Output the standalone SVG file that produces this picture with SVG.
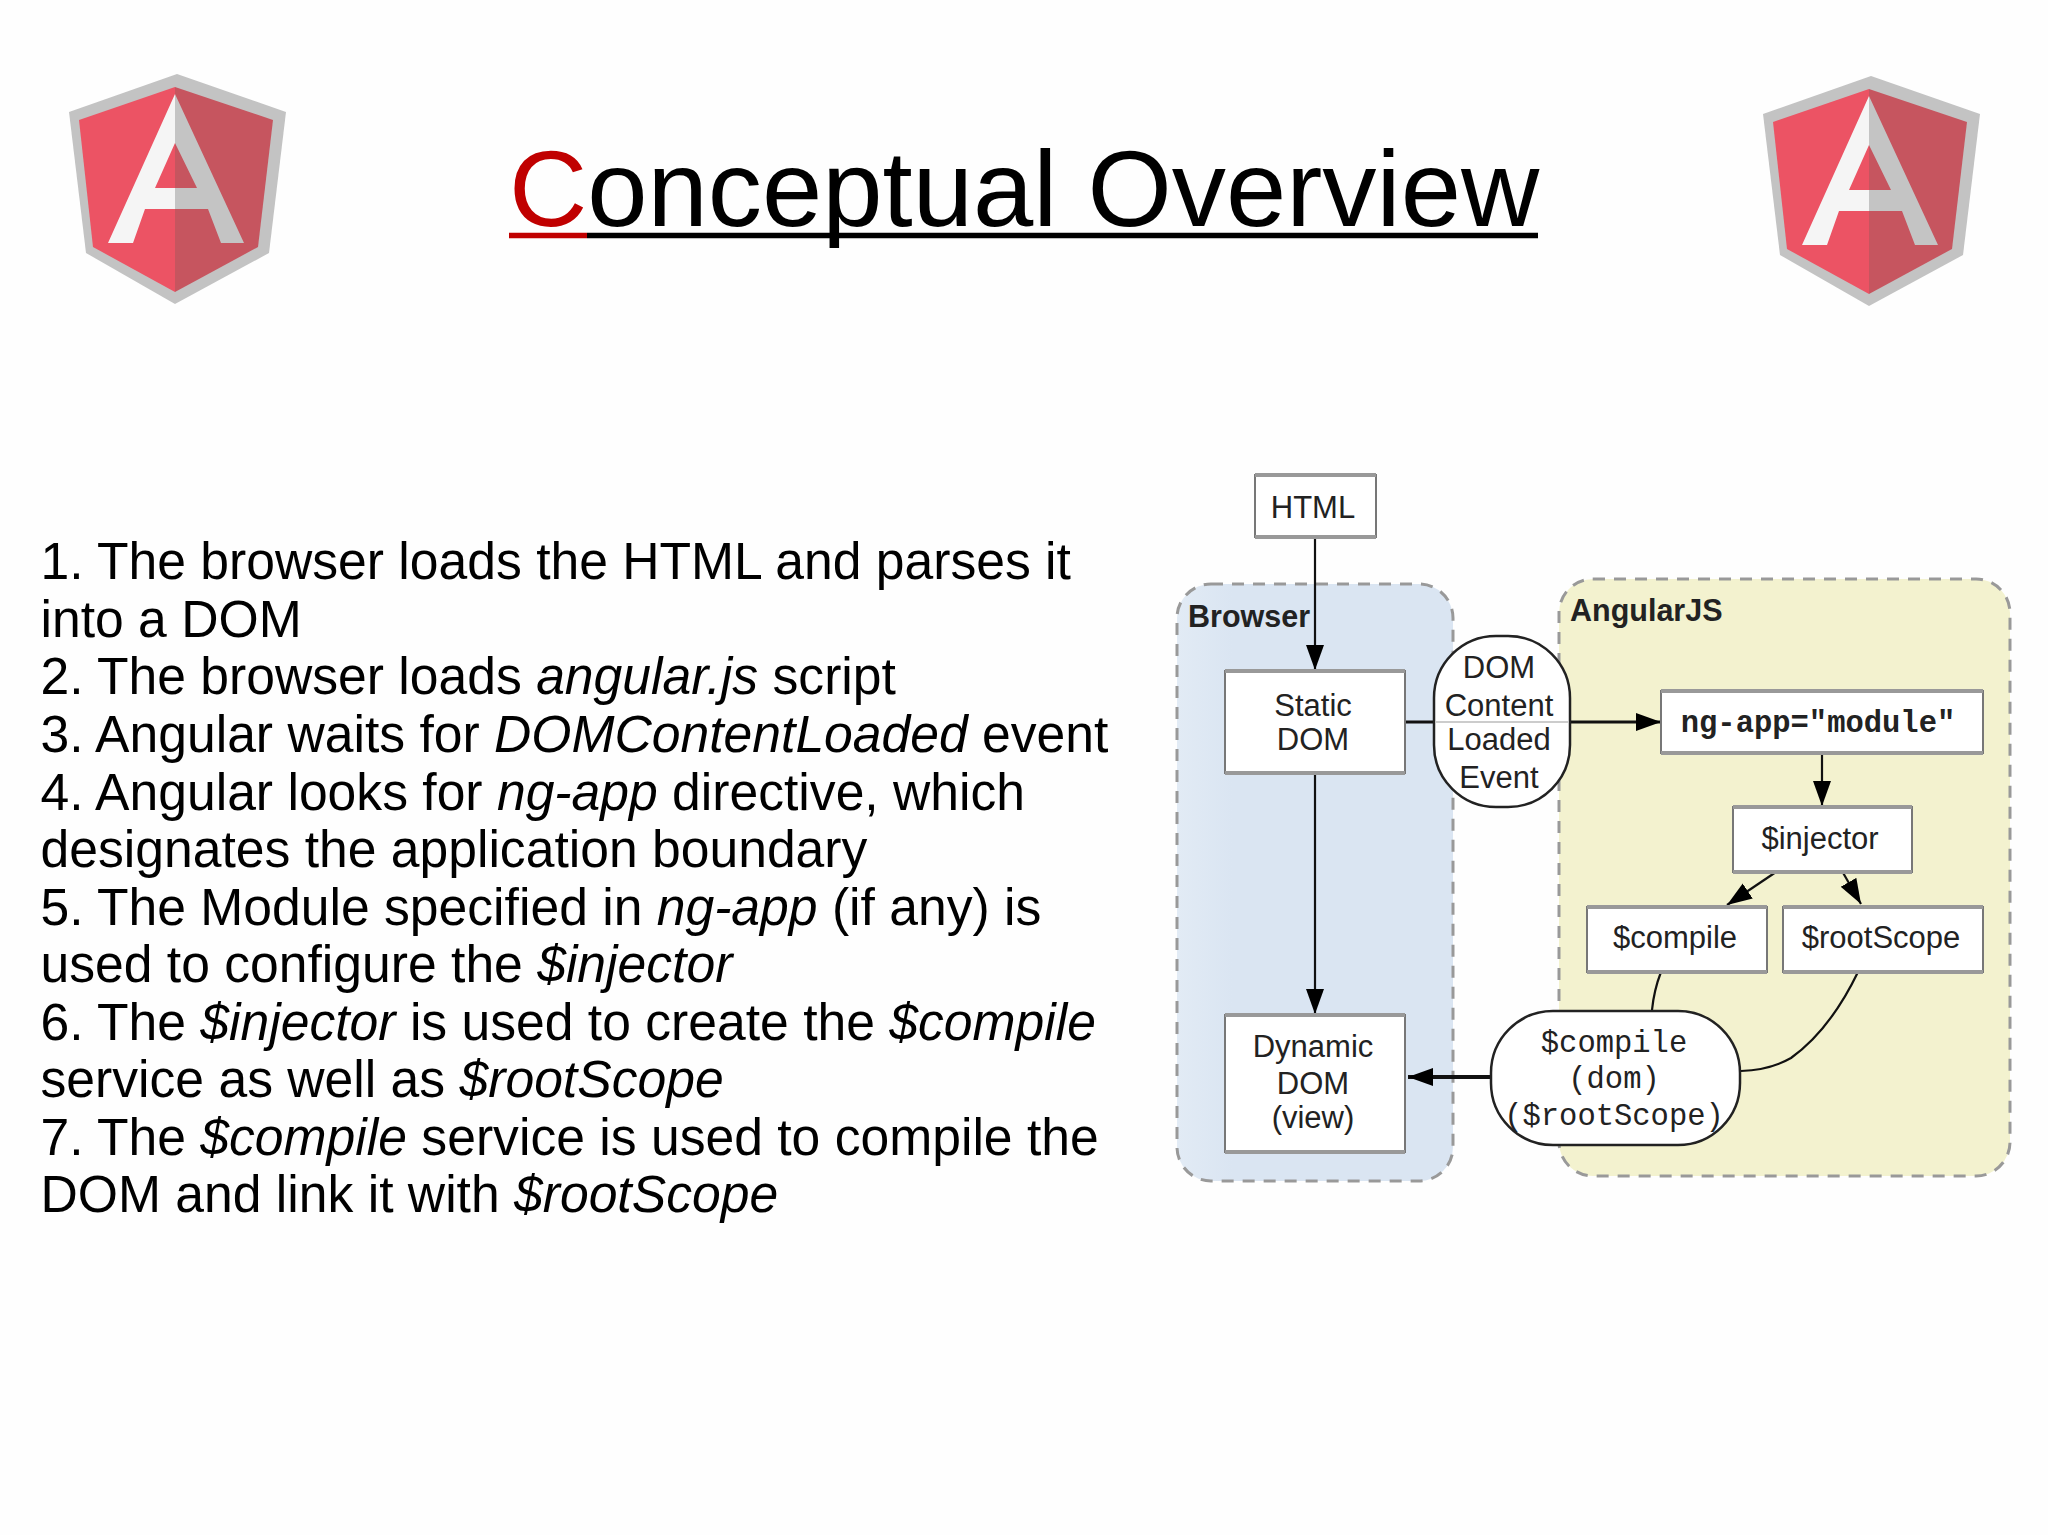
<svg xmlns="http://www.w3.org/2000/svg" xmlns:xlink="http://www.w3.org/1999/xlink" width="2048" height="1535" viewBox="0 0 2048 1535">
<style>
.t{font-family:"Liberation Sans",Arial,sans-serif;fill:#000}
.body{font-size:51.65px}
.i{font-style:italic}
.title{font-size:108.4px}
.n{font-size:31px;text-anchor:middle;fill:#222}
.m{font-family:"Liberation Mono","Courier New",monospace;font-size:30.5px;text-anchor:middle;fill:#222}
.b{font-size:30.5px;font-weight:bold;fill:#222}
.box{fill:#fff;stroke:#777;stroke-width:2}
.bar{stroke:#999;stroke-width:4;fill:none}
.pill{fill:#fff;stroke:#222;stroke-width:2.5}
.region{stroke:#999;stroke-width:3;stroke-dasharray:12 9}
.c{fill:none;stroke:#111;stroke-width:2.2}
</style>
<defs>
<marker id="ah" markerUnits="userSpaceOnUse" markerWidth="28" markerHeight="20" refX="25" refY="9" orient="auto"><path d="M0 0L25 9L0 18Z" fill="#000"/></marker>
<linearGradient id="bg" x1="0" x2="1" y1="0" y2="0"><stop offset="0" stop-color="#e2ebf5"/><stop offset=".2" stop-color="#dae5f2"/><stop offset="1" stop-color="#dae5f2"/></linearGradient>
<g id="logo">
<path d="M177 74L286 112L269 253L175 304L86 253L69 112Z" fill="#c3c3c3"/>
<path d="M175 87L79 120L93 247L175 292Z" fill="#ec5364"/>
<path d="M175 87L273 120L258 247L175 292Z" fill="#c6555f"/>
<path d="M175 94L108 243H133L145 209H175V188H155L175 143Z" fill="#f5f5f5"/>
<path d="M175 94L244 243H221L208 209H175V188H197L175 143Z" fill="#c4c4c4"/>
</g>
</defs>
<rect width="2048" height="1535" fill="#fefefe"/>
<g id="logo-left"><use xlink:href="#logo"/></g>
<g id="logo-right"><use xlink:href="#logo" transform="translate(1694 2)"/></g>
<text class="t title" x="509" y="226"><tspan fill="#c00000">C</tspan><tspan fill="#000">onceptual Overview</tspan></text>
<path d="M509 235.5H587" stroke="#c00000" stroke-width="5.5"/>
<path d="M587 235.5H1538" stroke="#000" stroke-width="5.5"/>
<g id="steps" class="t body">
<text x="40.5" y="579">1. The browser loads the HTML and parses it</text>
<text x="40.5" y="636.5">into a DOM</text>
<text x="40.5" y="694">2. The browser loads <tspan class="i">angular.js</tspan> script</text>
<text x="40.5" y="751.5">3. Angular waits for <tspan class="i">DOMContentLoaded</tspan> event</text>
<text x="40.5" y="809.5">4. Angular looks for <tspan class="i">ng-app</tspan> directive, which</text>
<text x="40.5" y="867">designates the application boundary</text>
<text x="40.5" y="924.5">5. The Module specified in <tspan class="i">ng-app</tspan> (if any) is</text>
<text x="40.5" y="982">used to configure the <tspan class="i">$injector</tspan></text>
<text x="40.5" y="1039.5">6. The <tspan class="i">$injector</tspan> is used to create the <tspan class="i">$compile</tspan></text>
<text x="40.5" y="1097">service as well as <tspan class="i">$rootScope</tspan></text>
<text x="40.5" y="1154.5">7. The <tspan class="i">$compile</tspan> service is used to compile the</text>
<text x="40.5" y="1212">DOM and link it with <tspan class="i">$rootScope</tspan></text>
</g>
<g id="browser"><rect class="region" x="1177" y="584" width="276" height="597" rx="34" fill="url(#bg)"/><text class="t b" x="1188" y="627">Browser</text></g>
<g id="angularjs"><rect class="region" x="1559" y="579" width="451" height="597" rx="34" fill="#f3f2cf"/><text class="t b" x="1570" y="621">AngularJS</text></g>
<g id="connectors">
<path class="c" marker-end="url(#ah)" d="M1315 538V670"/>
<path class="c" marker-end="url(#ah)" d="M1315 773V1014"/>
<path class="c" style="stroke-width:3" marker-end="url(#ah)" d="M1405 722H1661"/>
<path class="c" marker-end="url(#ah)" d="M1822 753V806"/>
<path class="c" marker-end="url(#ah)" d="M1776 872L1727 905"/>
<path class="c" marker-end="url(#ah)" d="M1842 871L1861 904"/>
<path class="c" d="M1661 972Q1654 990 1652 1010"/>
<path class="c" d="M1858 972Q1830 1030 1791 1058Q1770 1070 1741 1071"/>
<path class="c" style="stroke-width:4" marker-end="url(#ah)" d="M1490 1077H1408"/>
</g>
<g id="html"><rect class="box" x="1255" y="475" width="121" height="62"/><path class="bar" d="M1255 475H1376M1255 537H1376"/><text class="t n" x="1313" y="518">HTML</text></g>
<g id="static-dom"><rect class="box" x="1225" y="671" width="180" height="102"/><path class="bar" d="M1225 671H1405M1225 773H1405"/><text class="t n" x="1313" y="716">Static</text><text class="t n" x="1313" y="750">DOM</text></g>
<g id="dom-content-loaded"><rect class="pill" x="1434" y="636" width="136" height="171" rx="62" ry="62"/><path d="M1436 722H1568" stroke="#bbb" stroke-width="1.5"/><text class="t n" x="1499" y="678">DOM</text><text class="t n" x="1499" y="716">Content</text><text class="t n" x="1499" y="750">Loaded</text><text class="t n" x="1499" y="788">Event</text></g>
<g id="ng-app"><rect class="box" x="1661" y="691" width="322" height="62"/><path class="bar" d="M1661 691H1983M1661 753H1983"/><text class="t m" style="font-weight:bold" x="1818" y="732">ng-app="module"</text></g>
<g id="injector"><rect class="box" x="1733" y="807" width="179" height="65"/><path class="bar" d="M1733 807H1912M1733 872H1912"/><text class="t n" x="1820" y="849">$injector</text></g>
<g id="compile"><rect class="box" x="1587" y="907" width="180" height="65"/><path class="bar" d="M1587 907H1767M1587 972H1767"/><text class="t n" x="1675" y="948">$compile</text></g>
<g id="rootscope"><rect class="box" x="1783" y="907" width="200" height="65"/><path class="bar" d="M1783 907H1983M1783 972H1983"/><text class="t n" x="1881" y="948">$rootScope</text></g>
<g id="dynamic-dom"><rect class="box" x="1225" y="1015" width="180" height="137"/><path class="bar" d="M1225 1015H1405M1225 1152H1405"/><text class="t n" x="1313" y="1057">Dynamic</text><text class="t n" x="1313" y="1094">DOM</text><text class="t n" x="1313" y="1128">(view)</text></g>
<g id="compile-call"><rect class="pill" x="1491" y="1011" width="249" height="134" rx="62" ry="62"/><text class="t m" x="1614" y="1052">$compile</text><text class="t m" x="1614" y="1088">(dom)</text><text class="t m" x="1614" y="1125">($rootScope)</text></g>
</svg>
